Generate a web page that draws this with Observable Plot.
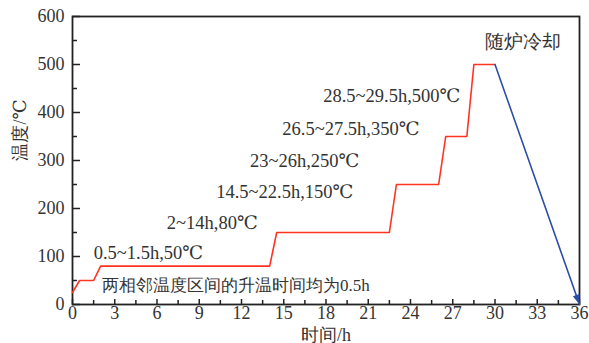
<!DOCTYPE html>
<html>
<head>
<meta charset="utf-8">
<script src="https://cdn.jsdelivr.net/npm/d3@7"></script>
<script src="https://cdn.jsdelivr.net/npm/@observablehq/plot@0.6"></script>
<style>
  html, body { margin: 0; padding: 0; background: #fff; }
  #chart svg text { font-family: "Liberation Serif", "Times New Roman", "DejaVu Serif", serif !important; }
</style>
</head>
<body>
<div id="chart"></div>
<script>
// Heating schedule (red)
const heatTime = [0, 0.5, 1.5, 2, 14, 14.5, 22.5, 23, 26, 26.5, 28, 28.5, 30];
const heatTemp = [25, 50, 50, 80, 80, 150, 150, 250, 250, 350, 350, 500, 500];
// Furnace cooling (blue arrow)
const coolTime = [30, 36];
const coolTemp = [500, 0];

// Axis ticks
const xTickLabels = [0, 3, 6, 9, 12, 15, 18, 21, 24, 27, 30, 33, 36];
const xMinorTicks = [1.5, 4.5, 7.5, 10.5, 13.5, 16.5, 19.5, 22.5, 25.5, 28.5, 31.5, 34.5];
const yTickLabels = [0, 100, 200, 300, 400, 500, 600];
const yMinorTicks = [50, 150, 250, 350, 450, 550];

// Annotations
const noteText = ["0.5~1.5h,50℃", "2~14h,80℃", "14.5~22.5h,150℃", "23~26h,250℃",
                  "26.5~27.5h,350℃", "28.5~29.5h,500℃", "随炉冷却"];
const noteX = [1.5, 6.7, 10.2, 12.6, 14.9, 17.8, 29.3];
const noteY = [108, 169, 235, 298, 365, 435, 546];
const footNote = "两相邻温度区间的升温时间均为0.5h";
const footX = 2.1, footY = 40;

const xTitle = "时间/h";
const yTitle = "温度/℃";

const W = 589, H = 343;
const mL = 72, mR = 10, mT = 16, mB = 39;
const fw = W - mL - mR, fh = H - mT - mB;

const heat = heatTime.map((t, i) => ({t, v: heatTemp[i]}));
const cool = coolTime.map((t, i) => ({t, v: coolTemp[i]}));
const notes = noteText.map((s, i) => ({s, x: noteX[i], y: noteY[i]}));

function filledArrow(color, context) {
  const doc = (context && context.document) || document;
  const m = d3.select(doc.createElementNS("http://www.w3.org/2000/svg", "marker"))
    .attr("viewBox", "-12 -6 12 12")
    .attr("markerWidth", 12).attr("markerHeight", 12)
    .attr("markerUnits", "userSpaceOnUse")
    .attr("refX", 0).attr("refY", 0)
    .attr("orient", "auto")
    .attr("overflow", "visible");
  m.append("path").attr("d", "M-10,-3.5L0,0L-10,3.5Z").attr("fill", color).attr("stroke", "none");
  return m.node();
}

const chart = Plot.plot({
  width: W, height: H,
  marginLeft: mL, marginRight: mR, marginTop: mT, marginBottom: mB,
  style: {color: "#333", background: "#fff"},
  x: {domain: [0, 36]},
  y: {domain: [0, 600]},
  marks: [
    Plot.axisX(xTickLabels, {tickSize: 0, tickPadding: 2, fontSize: 18, label: null, fill: "#333"}),
    Plot.axisY(yTickLabels, {tickSize: 0, tickPadding: 8, fontSize: 18, label: null, fill: "#333"}),
    Plot.tickX(xTickLabels, {x: d => d, insetTop: fh - 5, stroke: "#222", strokeWidth: 1.5}),
    Plot.tickX(xMinorTicks, {x: d => d, insetTop: fh - 4, stroke: "#222", strokeWidth: 1.5}),
    Plot.tickY(yTickLabels, {y: d => d, insetRight: fw - 8, stroke: "#222", strokeWidth: 1.5}),
    Plot.tickY(yMinorTicks, {y: d => d, insetRight: fw - 5, stroke: "#222", strokeWidth: 1.5}),
    Plot.frame({stroke: "#222", strokeWidth: 1.8}),
    Plot.line(heat, {x: "t", y: "v", stroke: "#ff3322", strokeWidth: 1.6}),
    Plot.line(cool, {x: "t", y: "v", stroke: "#2b4fa6", strokeWidth: 1.6, markerEnd: filledArrow}),
    Plot.text(notes, {x: "x", y: "y", text: "s", textAnchor: "start", fontSize: 18.5, fill: "#333"}),
    Plot.text([footNote], {x: () => footX, y: () => footY, textAnchor: "start", fontSize: 17, fill: "#333"}),
    Plot.text([xTitle], {frameAnchor: "bottom", dy: 36, fontSize: 18, fill: "#333"}),
    Plot.text([yTitle], {frameAnchor: "left", rotate: -90, dx: -52, fontSize: 18, fill: "#333"})
  ]
});
document.getElementById("chart").appendChild(chart);
</script>
</body>
</html>
